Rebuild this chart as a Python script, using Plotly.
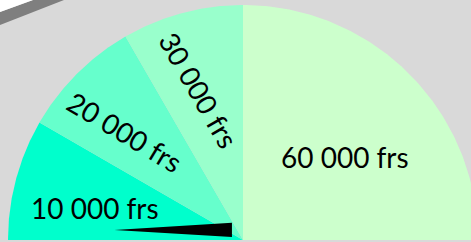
import numpy as np
import plotly.graph_objects as go

# ---- data ----
band_labels = ["10 000 frs", "20 000 frs", "30 000 frs", "60 000 frs"]
band_weights = [1, 1, 1, 3]          # share of the 180° sweep
band_colors = ["#00FFCC", "#66FFCC", "#99FFCC", "#CCFFCC"]
label_angles = [0, 31, 60, 0]        # text rotation
label_pos_r = [0.646, 0.68, 0.665, 0.56]
label_pos_deg = [167.8, 137.5, 106.4, 39.1]
needle_angle_deg = 180
needle_length = 0.5
needle_base = 0.06
needle_pivot = (-0.047, 0.043)

W, H = 471, 242
R_PX = 235.0
CX, CY = 243.0, 240.0

fig = go.Figure()

total = sum(band_weights)
start = 180.0
for lab, w, col in zip(band_labels, band_weights, band_colors):
    end = start - 180.0 * w / total
    th = np.radians(np.linspace(start, end, 120))
    xs = np.concatenate([[0], np.cos(th), [0]])
    ys = np.concatenate([[0], np.sin(th), [0]])
    fig.add_trace(go.Scatter(x=xs, y=ys, fill="toself", fillcolor=col,
                             mode="lines", line=dict(width=0, color=col),
                             hoverinfo="skip", showlegend=False, name=lab))
    start = end

# needle
a = np.radians(needle_angle_deg)
px, py = needle_pivot
tipx, tipy = px + needle_length * np.cos(a), py + needle_length * np.sin(a)
nx, ny = -np.sin(a), np.cos(a)
b1 = (px + nx * needle_base / 2, py + ny * needle_base / 2)
b2 = (px - nx * needle_base / 2, py - ny * needle_base / 2)
fig.add_trace(go.Scatter(x=[tipx, b1[0], b2[0], tipx], y=[tipy, b1[1], b2[1], tipy],
                         fill="toself", fillcolor="black", mode="lines",
                         line=dict(width=0, color="black"),
                         hoverinfo="skip", showlegend=False))

for lab, ang, r, d in zip(band_labels, label_angles, label_pos_r, label_pos_deg):
    fig.add_annotation(x=r * np.cos(np.radians(d)), y=r * np.sin(np.radians(d)),
                       text=lab, showarrow=False, textangle=ang,
                       xanchor="center", yanchor="middle",
                       font=dict(family="Lato", size=28, color="black"))

# decorative corner (white corner + dark frame band)
def px2paper(x, y):
    return x / W, 1 - y / H

c0 = px2paper(0, 0); c1 = px2paper(0, 12); c2 = px2paper(33, 0)
d1 = px2paper(0, 25); d2 = px2paper(64, 0)
fig.add_shape(type="path", xref="paper", yref="paper",
              path=f"M {d1[0]},{d1[1]} L {c1[0]},{c1[1]} L {c2[0]},{c2[1]} L {d2[0]},{d2[1]} Z",
              fillcolor="#7F7F7F", line=dict(width=0), layer="below")
fig.add_shape(type="path", xref="paper", yref="paper",
              path=f"M {c0[0]},{c0[1]} L {c1[0]},{c1[1]} L {c2[0]},{c2[1]} Z",
              fillcolor="white", line=dict(width=0), layer="below")

fig.update_xaxes(range=[-CX / R_PX, (W - CX) / R_PX], visible=False, showgrid=False, zeroline=False)
fig.update_yaxes(range=[-(H - CY) / R_PX, CY / R_PX], visible=False, showgrid=False, zeroline=False)
fig.update_layout(width=W, height=H, margin=dict(l=0, r=0, t=0, b=0),
                  paper_bgcolor="#D9D9D9", plot_bgcolor="rgba(0,0,0,0)",
                  showlegend=False)

fig.write_html("out.html", config={"displayModeBar": False},
               post_script="document.body.style.margin='0';document.body.style.overflow='hidden';")
